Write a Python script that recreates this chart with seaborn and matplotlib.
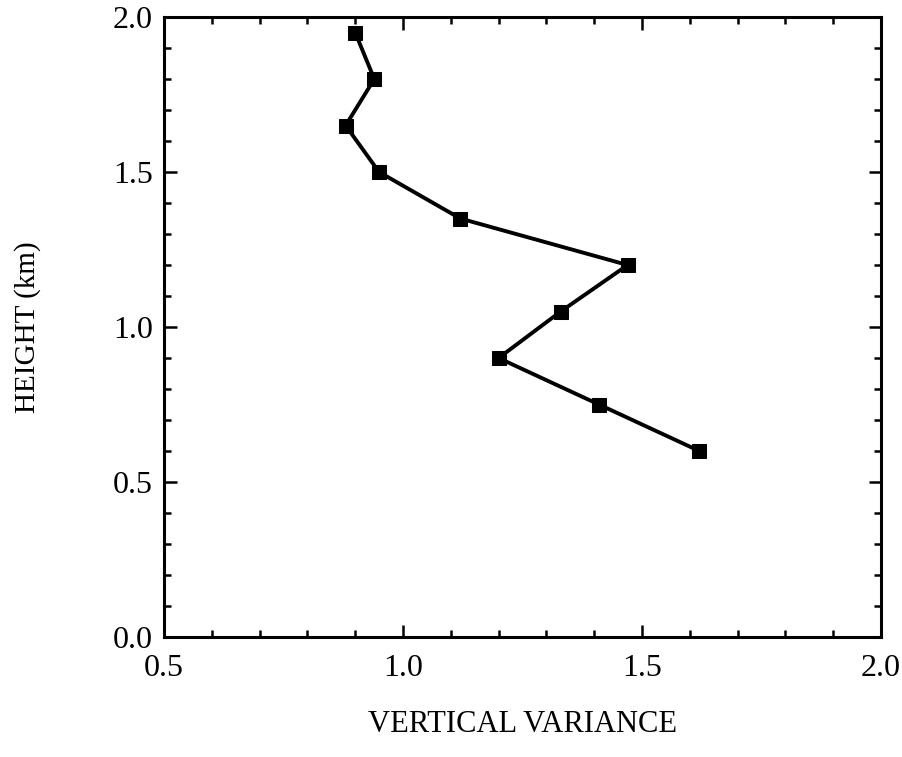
import matplotlib
matplotlib.use("Agg")
import matplotlib.pyplot as plt
import seaborn as sns
import pandas as pd
from matplotlib.ticker import MultipleLocator

height_km = [1.95, 1.80, 1.65, 1.50, 1.35, 1.20, 1.05, 0.90, 0.75, 0.60]
vertical_variance = [0.90, 0.94, 0.88, 0.95, 1.12, 1.47, 1.33, 1.20, 1.41, 1.62]
x_ticks = [0.5, 1.0, 1.5, 2.0]
x_tick_labels = ["0.5", "1.0", "1.5", "2.0"]
y_ticks = [0.0, 0.5, 1.0, 1.5, 2.0]
y_tick_labels = ["0.0", "0.5", "1.0", "1.5", "2.0"]

sns.set_theme(style="ticks")
plt.rcParams["font.family"] = ["Liberation Serif", "DejaVu Serif"]
plt.rcParams["text.color"] = "black"
plt.rcParams["axes.labelcolor"] = "black"
plt.rcParams["xtick.color"] = "black"
plt.rcParams["ytick.color"] = "black"

df = pd.DataFrame({"var": vertical_variance, "h": height_km})

fig = plt.figure(figsize=(9.03, 7.57), dpi=100)
ax = fig.add_axes([0.1816, 0.1585, 0.7940, 0.8190])

sns.lineplot(data=df, x="var", y="h", sort=False, ax=ax, color="black",
             linewidth=2.8, marker="s", markersize=10, markeredgecolor="black",
             markerfacecolor="black")

ax.set_xlim(0.5, 2.0)
ax.set_ylim(0.0, 2.0)
ax.set_xticks(x_ticks)
ax.set_xticklabels(x_tick_labels)
ax.set_yticks(y_ticks)
ax.set_yticklabels(y_tick_labels)
ax.xaxis.set_minor_locator(MultipleLocator(0.1))
ax.yaxis.set_minor_locator(MultipleLocator(0.1))
ax.tick_params(which="both", direction="in", top=True, right=True, color="black",
               labelcolor="black", width=1.8)
ax.tick_params(which="major", length=9, labelsize=23)
ax.tick_params(axis="x", which="major", pad=12)
ax.tick_params(axis="y", which="major", pad=8)
ax.tick_params(which="minor", length=5)
for s in ax.spines.values():
    s.set_linewidth(2.2)
    s.set_color("black")

ax.set_xlabel("VERTICAL VARIANCE", fontsize=22, labelpad=20, color="black")
ax.set_ylabel("HEIGHT (km)", fontsize=21, labelpad=52, color="black")

fig.savefig("out.png", dpi=100, facecolor="white")
